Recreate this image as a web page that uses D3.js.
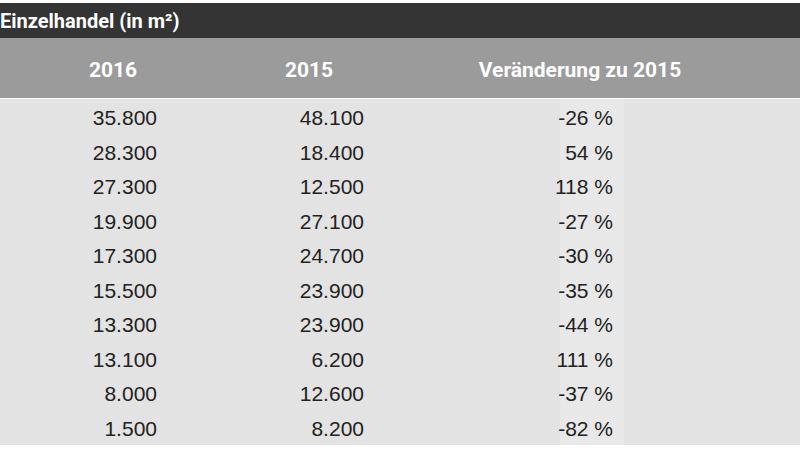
<!DOCTYPE html><html><head><meta charset="utf-8"><script src="https://d3js.org/d3.v7.min.js"></script>
<style>body{margin:0;background:#fff}svg{display:block}</style></head><body><script>
const title = "Einzelhandel (in m²)";
const headers = ["2016","2015","Veränderung zu 2015"];
const v2016 = ["35.800","28.300","27.300","19.900","17.300","15.500","13.300","13.100","8.000","1.500"];
const v2015 = ["48.100","18.400","12.500","27.100","24.700","23.900","23.900","6.200","12.600","8.200"];
const change = ["-26 %","54 %","118 %","-27 %","-30 %","-35 %","-44 %","111 %","-37 %","-82 %"];
const W=800,H=450;
const svg=d3.select("body").append("svg").attr("width",W).attr("height",H);
const f="Roboto, 'Liberation Sans', Arial, sans-serif";
svg.append("rect").attr("x",0).attr("y",3).attr("width",W).attr("height",35).attr("fill","#343434");
svg.append("text").attr("x",0).attr("y",28).attr("fill","#fff").attr("font-family",f).attr("font-weight","bold").attr("font-size",20).text(title);
svg.append("rect").attr("x",0).attr("y",38).attr("width",W).attr("height",60).attr("fill","#9b9b9b");
svg.append("rect").attr("x",0).attr("y",99).attr("width",W).attr("height",346).attr("fill","#e3e3e3");
svg.append("rect").attr("x",560).attr("y",99).attr("width",64).attr("height",346).attr("fill","#e8e8e8");
const hx=[113,309,580];
svg.selectAll("text.h").data(headers).join("text").attr("x",(d,i)=>hx[i]).attr("y",77).attr("text-anchor","middle")
 .attr("fill","#fff").attr("font-family",f).attr("font-weight","bold").attr("font-size",21).text(d=>d);
const y=d3.scaleBand().domain(d3.range(v2016.length)).range([101,446]);
const cols=[[v2016,157],[v2015,364],[change,613]];
cols.forEach(([arr,rx])=>{
 svg.selectAll(null).data(arr).join("text").attr("x",rx).attr("y",(d,i)=>y(i)+y.bandwidth()/2+7)
  .attr("text-anchor","end").attr("fill","#222").attr("font-family","'Liberation Sans', Arial, sans-serif").attr("font-size",21).text(d=>d);
});
</script></body></html>
